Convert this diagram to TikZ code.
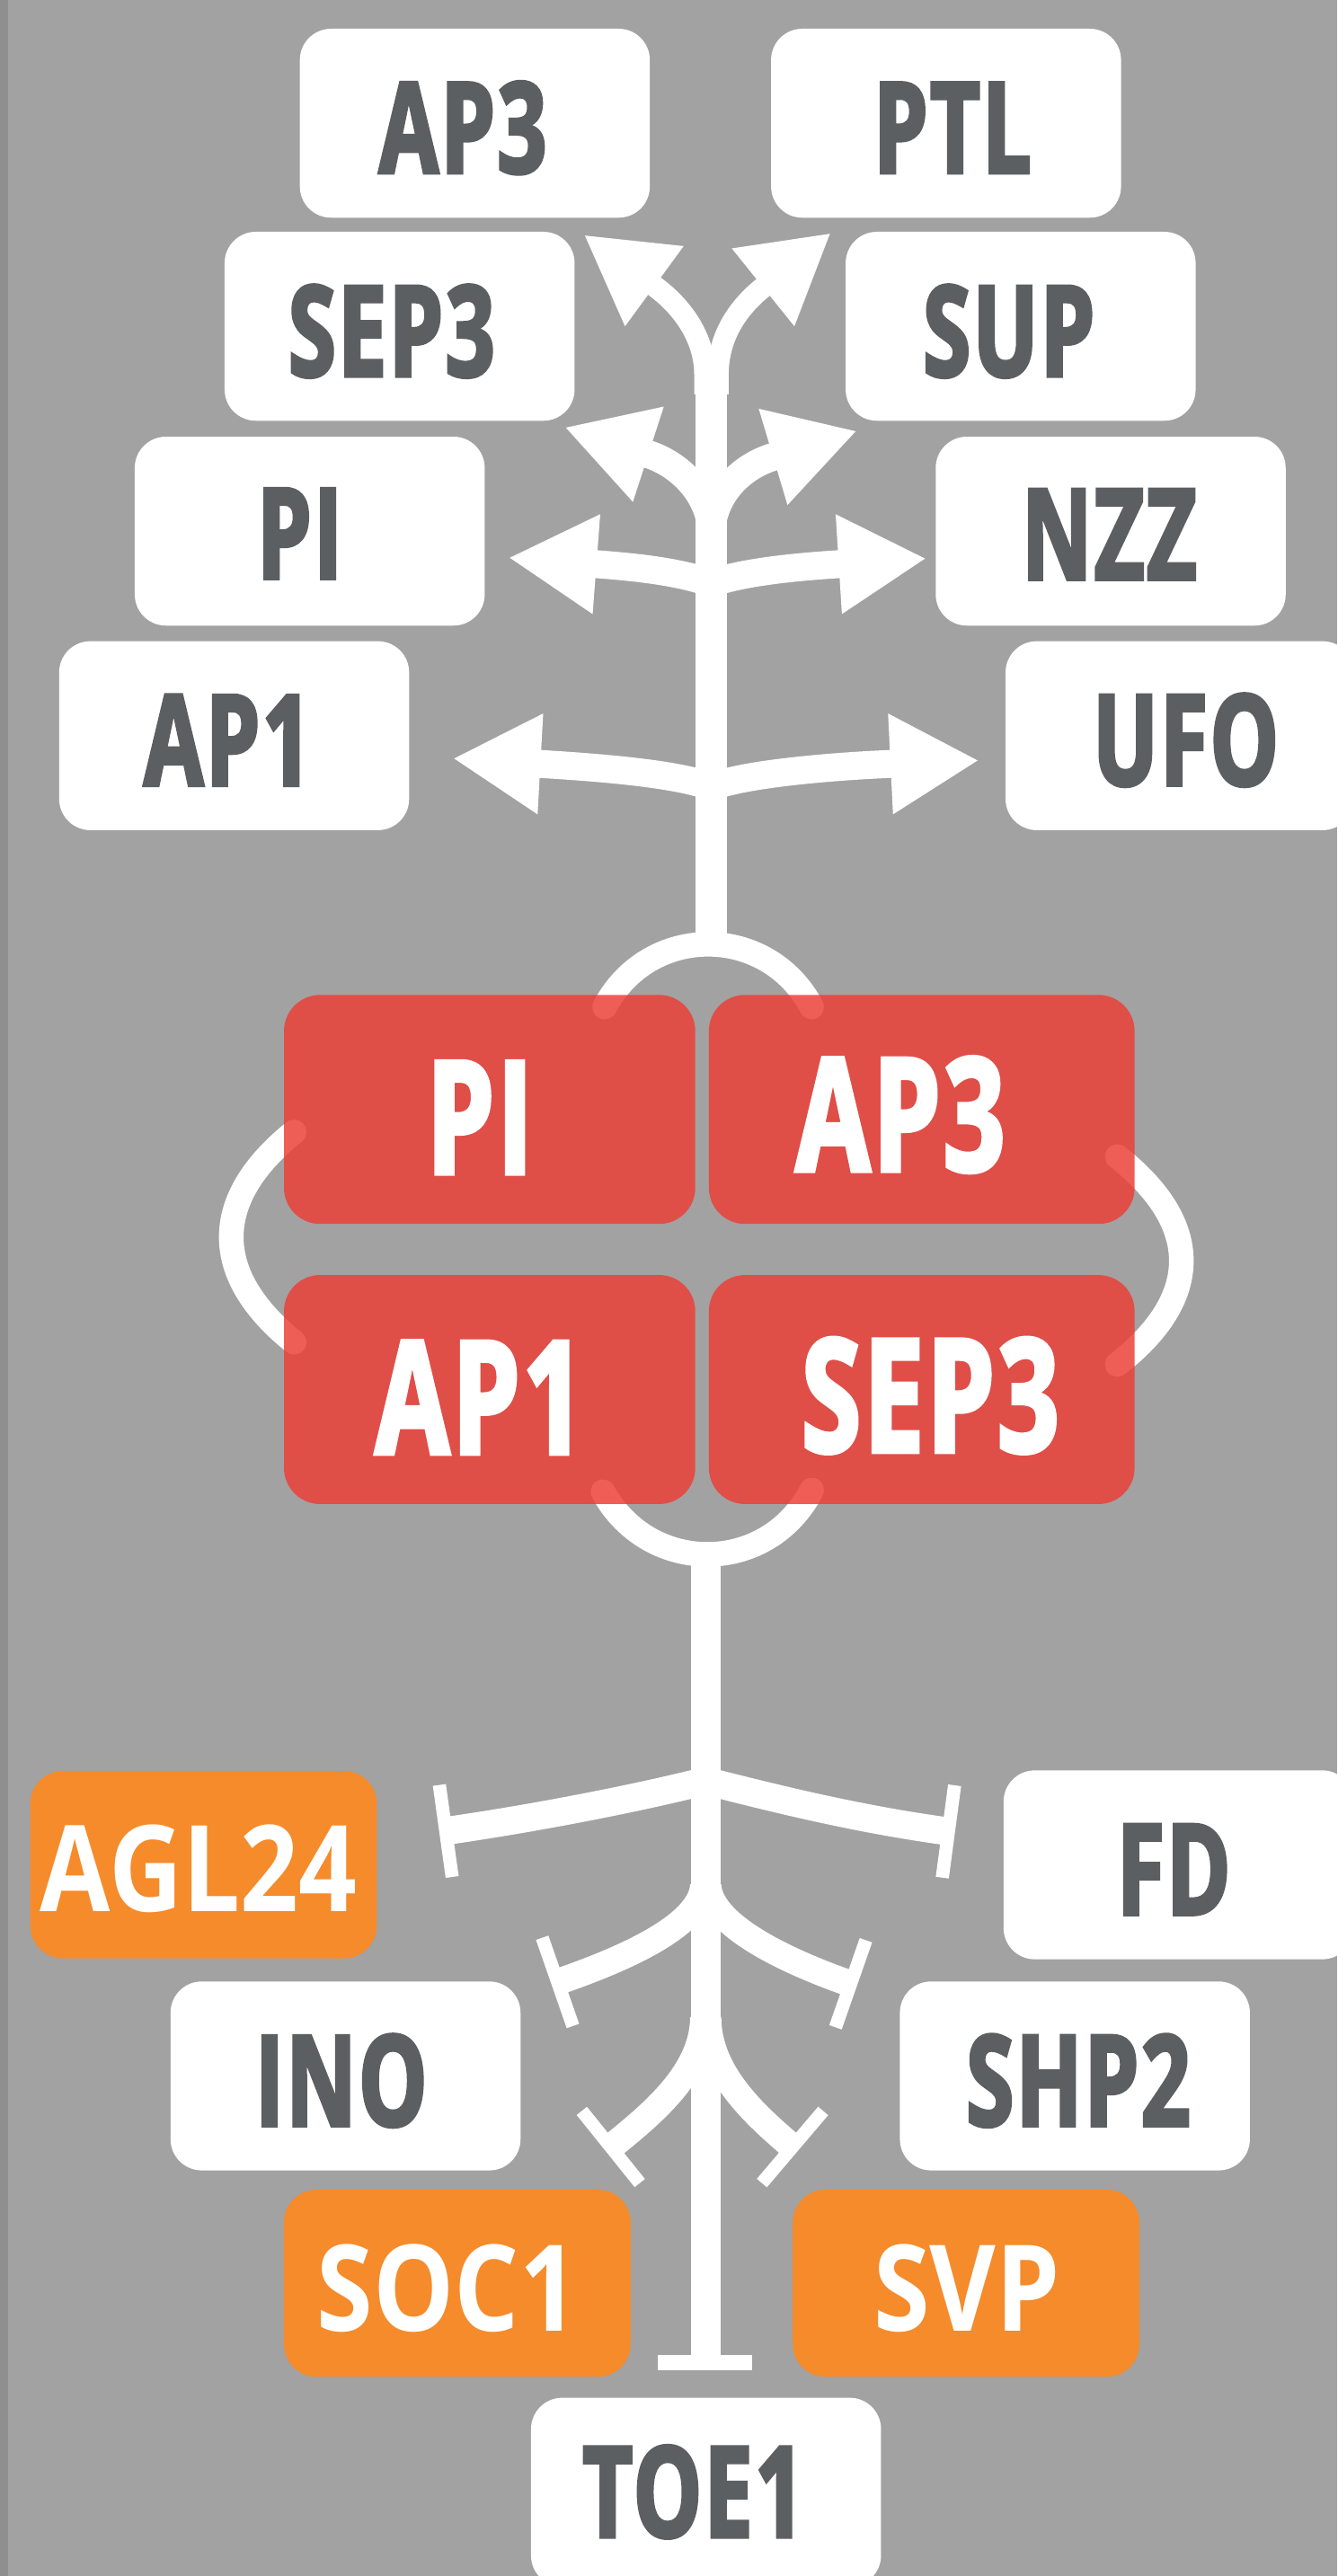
\documentclass[tikz,border=0pt]{standalone}
\usepackage{fontspec}
\setmainfont{Open Sans}
\newfontfamily\wfont{Open Sans}[FakeStretch=0.68, LetterSpace=2, BoldFeatures={FakeBold=2.6}]
\newfontfamily\ofont{Open Sans}[FakeStretch=0.85]
\usetikzlibrary{calc}
\definecolor{bgc}{HTML}{A2A2A2}
\definecolor{stripc}{HTML}{8F8F8F}
\definecolor{txtc}{HTML}{5C5F62}
\definecolor{redc}{RGB}{236,62,55}
\definecolor{orc}{HTML}{F58B2B}
\begin{document}
\begin{tikzpicture}[x=1pt,y=-1pt,
  wbox/.style={fill=white, rounded corners=19pt, minimum width=213pt, minimum height=115pt, inner sep=0pt},
  rbox/.style={fill=redc, fill opacity=0.84, rounded corners=22pt, minimum height=139.4pt, inner sep=0pt},
  obox/.style={fill=orc, rounded corners=20pt, minimum width=211pt, minimum height=114pt, inner sep=0pt},
  wtxt/.style={inner sep=0pt, text=txtc, font=\wfont\bfseries\fontsize{77pt}{80pt}\selectfont},
  rtxt/.style={inner sep=0pt, text=white, font=\wfont\bfseries\fontsize{96pt}{100pt}\selectfont},
  otxt/.style={inner sep=0pt, text=white, font=\ofont\bfseries\fontsize{73pt}{76pt}\selectfont},
  trunkline/.style={draw=white, line width=19pt},
  twigline/.style={draw=white, line width=17pt},
  toptwig/.style={draw=white, line width=13pt},
  lowtwig/.style={draw=white, line width=16pt},
  ringarc/.style={draw=white, line width=15pt, line cap=round},
  tbar/.style={draw=white, line width=8pt},
  ahead/.style={fill=white},
]
\fill[bgc] (0,0) rectangle (814,1568);
\fill[stripc] (0,0) rectangle (5,1568);
\useasboundingbox (0,0) rectangle (814,1568);
\clip (0,0) rectangle (814,1568);

% ---------- ring around the complex ----------
\coordinate (rT1) at (368,613); \coordinate (rT2) at (494,613);
\coordinate (rL1) at (179,689); \coordinate (rL2) at (179,817);
\coordinate (rR1) at (680,704); \coordinate (rR2) at (680,830.5);
\coordinate (rB1) at (367,908); \coordinate (rB2) at (494,907);
\draw[ringarc] (rT1) .. controls (395,562) and (467,562) .. (rT2);
\draw[ringarc] (rL1) .. controls (128,730) and (128,776) .. (rL2);
\draw[ringarc] (rR1) .. controls (732,745) and (732,790) .. (rR2);
\draw[ringarc] (rB1) .. controls (395,959) and (467,959) .. (rB2);

% ---------- upper tree ----------
\coordinate (ub) at (433,574);
\coordinate (ut) at (433,228);
\draw[trunkline] (ub) -- (ut);

% top left
\coordinate (tlS) at (429,240); \coordinate (tlB) at (398.3,174.2); \coordinate (tlT) at (356,143.4);
\coordinate (tlA) at (416.1,149.8); \coordinate (tlC) at (380.4,198.6);
\draw[toptwig] (tlS) -- (429,228) .. controls (429,205) and (414.5,186) .. (tlB) -- ($(tlB)!8pt!(tlT)$);
\fill[ahead] (tlA) -- (tlT) -- (tlC) -- cycle;
% top right
\coordinate (trS) at (437,240); \coordinate (trB) at (464.5,174.9); \coordinate (trT) at (505.1,142.3);
\coordinate (trA) at (445.4,151.2); \coordinate (trC) at (483.5,198.6);
\draw[toptwig] (trS) -- (437,228) .. controls (437,205) and (448.9,187.4) .. (trB) -- ($(trB)!8pt!(trT)$);
\fill[ahead] (trA) -- (trT) -- (trC) -- cycle;

% second level
\coordinate (j2) at (433,322);
\coordinate (l2B) at (394.6,276.5); \coordinate (l2T) at (344.4,260.3);
\coordinate (l2A) at (404,247.5); \coordinate (l2C) at (385.2,305.5);
\draw[twigline] (j2) .. controls (431,300) and (413.6,282.6) .. (l2B) -- ($(l2B)!8pt!(l2T)$);
\fill[ahead] (l2A) -- (l2T) -- (l2C) -- cycle;
\coordinate (r2B) at (470.5,278.1); \coordinate (r2T) at (520.8,262.5);
\coordinate (r2A) at (461.8,248.8); \coordinate (r2C) at (479.3,307.4);
\draw[twigline] (j2) .. controls (435,300) and (451.4,284) .. (r2B) -- ($(r2B)!8pt!(r2T)$);
\fill[ahead] (r2A) -- (r2T) -- (r2C) -- cycle;

% third level
\coordinate (j3) at (433,355);
\coordinate (l3B) at (363,343.4); \coordinate (l3T) at (310.3,339.5);
\coordinate (l3A) at (365.3,313); \coordinate (l3C) at (360.7,373.8);
\draw[twigline] (j3) .. controls (413,348) and (388,345.3) .. (l3B) -- ($(l3B)!8pt!(l3T)$);
\fill[ahead] (l3A) -- (l3T) -- (l3C) -- cycle;
\coordinate (r3B) at (510.5,343.4); \coordinate (r3T) at (563,340);
\coordinate (r3A) at (508.6,313); \coordinate (r3C) at (512.4,373.8);
\draw[twigline] (j3) .. controls (453,348) and (485.5,345) .. (r3B) -- ($(r3B)!8pt!(r3T)$);
\fill[ahead] (r3A) -- (r3T) -- (r3C) -- cycle;

% fourth level
\coordinate (j4) at (433,479);
\coordinate (l4B) at (328.9,465); \coordinate (l4T) at (276.4,461.7);
\coordinate (l4A) at (330.6,434.3); \coordinate (l4C) at (327.2,495.7);
\draw[twigline] (j4) .. controls (410,470) and (353.9,466.6) .. (l4B) -- ($(l4B)!8pt!(l4T)$);
\fill[ahead] (l4A) -- (l4T) -- (l4C) -- cycle;
\coordinate (r4B) at (542,465); \coordinate (r4T) at (595,462.9);
\coordinate (r4A) at (540.5,434.3); \coordinate (r4C) at (543.5,495.7);
\draw[twigline] (j4) .. controls (456,470) and (517,466) .. (r4B) -- ($(r4B)!8pt!(r4T)$);
\fill[ahead] (r4A) -- (r4T) -- (r4C) -- cycle;

% ---------- lower tree ----------
\coordinate (lb) at (429.5,940);
\coordinate (lt) at (429.5,1438);
\draw[trunkline, line width=18pt] (lb) -- (lt);
\coordinate (bb1) at (400.2,1438); \coordinate (bb2) at (457.5,1438);
\draw[tbar, line width=9.3pt] (bb1) -- (bb2);

% level A
\coordinate (jA) at (429.5,1084);
\coordinate (aLm) at (271.3,1114.5); \coordinate (aL1) at (267.4,1086.5); \coordinate (aL2) at (275.2,1142.5);
\draw[twigline] (jA) .. controls (390,1094) and (330,1106) .. (aLm);
\draw[tbar] (aL1) -- (aL2);
\coordinate (aRm) at (577.3,1114.8); \coordinate (aR1) at (581,1086.7); \coordinate (aR2) at (573.5,1142.9);
\draw[twigline] (jA) .. controls (469,1094) and (520,1107) .. (aRm);
\draw[tbar] (aR1) -- (aR2);

% level B
\coordinate (jBl) at (428,1148); \coordinate (jBr) at (431,1148);
\coordinate (bLm) at (339.4,1206.4); \coordinate (bL1) at (330,1179.5); \coordinate (bL2) at (348.7,1233.2);
\draw[lowtwig] (jBl) .. controls (426,1175) and (367.7,1196.5) .. (bLm);
\draw[tbar] (bL1) -- (bL2);
\coordinate (bRm) at (517.7,1207.5); \coordinate (bR1) at (527,1181); \coordinate (bR2) at (508.5,1234);
\draw[lowtwig] (jBr) .. controls (433,1175) and (489.4,1197.6) .. (bRm);
\draw[tbar] (bR1) -- (bR2);

% level C
\coordinate (jCl) at (428,1228); \coordinate (jCr) at (431,1228);
\coordinate (cLm) at (371.8,1306.9); \coordinate (cL1) at (354.1,1284.9); \coordinate (cL2) at (389.4,1328.8);
\draw[lowtwig] (jCl) .. controls (428,1262) and (395,1288) .. (cLm);
\draw[tbar] (cL1) -- (cL2);
\coordinate (cRm) at (482.4,1306.9); \coordinate (cR1) at (501,1284.9); \coordinate (cR2) at (463.7,1328.8);
\draw[lowtwig] (jCr) .. controls (431,1262) and (459.6,1287.4) .. (cRm);
\draw[tbar] (cR1) -- (cR2);

% ---------- white boxes ----------
\node[wbox] (ap3t) at (289,75) {};
\node[wtxt] (ap3tl) at (281.7,77.8) {AP3};
\node[wbox] (ptl) at (575.8,75) {};
\node[wtxt] (ptll) at (579.7,77.8) {PTL};
\node[wbox] (sep3t) at (243.2,198.6) {};
\node[wtxt] (sep3tl) at (238.3,201.6) {SEP3};
\node[wbox] (sup) at (621.2,198.6) {};
\node[wtxt] (supl) at (614,201.6) {SUP};
\node[wbox] (pit) at (188.5,323.3) {};
\node[wtxt] (pitl) at (182.5,324.8) {PI};
\node[wbox] (nzz) at (676,323.3) {};
\node[wtxt] (nzzl) at (675.2,325.3) {NZZ};
\node[wbox] (ap1t) at (142.5,447.8) {};
\node[wtxt] (ap1tl) at (138.6,450.5) {AP1};
\node[wbox, minimum width=212pt] (ufo) at (718,447.8) {};
\node[wtxt] (ufol) at (721.7,450.5) {UFO};

% ---------- red complex ----------
\node[rbox, minimum width=250.3pt] (pir) at (298,675.3) {};
\node[rbox, minimum width=259.1pt] (ap3r) at (561,675.3) {};
\node[rbox, minimum width=250.3pt] (ap1r) at (298,845.8) {};
\node[rbox, minimum width=259.1pt] (sep3r) at (561,845.8) {};
\node[rtxt] (pirl) at (292,680.2) {PI};
\node[rtxt] (ap3rl) at (548,678.5) {AP3};
\node[rtxt] (ap1rl) at (292,850.6) {AP1};
\node[rtxt] (sep3rl) at (566.2,849.5) {SEP3};

% ---------- lower boxes ----------
\node[obox] (agl) at (123.9,1135) {};
\node[otxt] (agll) at (120.8,1137.2) {AGL24};
\node[wbox] (fd) at (717.3,1135.1) {};
\node[wtxt] (fdl) at (714.4,1138) {FD};
\node[wbox] (ino) at (210.3,1263.6) {};
\node[wtxt] (inol) at (207.7,1266.5) {INO};
\node[wbox] (shp) at (654.2,1263.6) {};
\node[wtxt] (shpl) at (656.3,1266.5) {SHP2};
\node[obox] (soc) at (278.3,1389.8) {};
\node[otxt] (socl) at (272.3,1392.9) {SOC1};
\node[obox] (svp) at (588,1389.8) {};
\node[otxt] (svpl) at (588.5,1392.9) {SVP};
\node[wbox] (toe) at (429.7,1517) {};
\node[wtxt] (toel) at (422.1,1516.8) {TOE1};
\end{tikzpicture}
\end{document}
